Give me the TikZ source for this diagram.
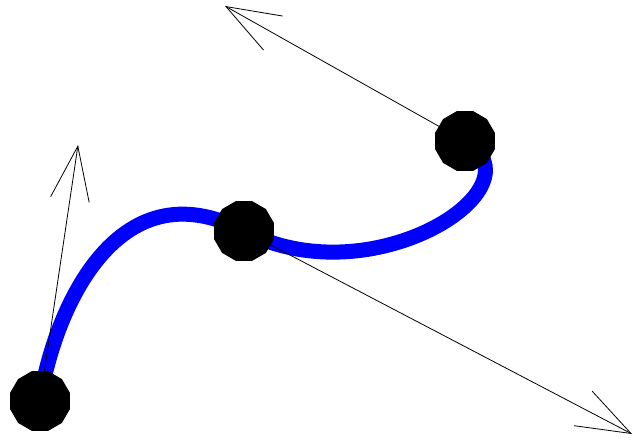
\documentclass[tikz,border=0pt]{standalone}
\usepackage{tikz}
\usetikzlibrary{arrows.meta,calc,shapes.geometric}
\definecolor{CurveBlue}{RGB}{0,0,255}
\newcommand{\tangentarrow}[2]{%
  \draw[-{Straight Barb[length=54pt,width=39pt]},line width=0.8pt] (#1) -- (#2);}

\begin{document}
\begin{tikzpicture}[x=1pt,y=-1pt]
  \useasboundingbox (0,0) rectangle (633,441);
  \coordinate (p1) at (40,401);
  \coordinate (p2) at (244,231);
  \coordinate (p3) at (465,141);
  \coordinate (t1) at (78,145);
  \coordinate (t2) at (632,434);
  \coordinate (t3) at (225,6);
  \draw[CurveBlue,line width=15pt]
    (p1) .. controls ($(p1)!1/3!(t1)$) and ($(p2)!-1/3!(t2)$) .. (p2)
         .. controls ($(p2)!1/3!(t2)$) and ($(p3)!-1/3!(t3)$) .. (p3);
  \tangentarrow{p1}{t1}
  \tangentarrow{p2}{t2}
  \tangentarrow{p3}{t3}
  \foreach \p in {p1,p2,p3}
    \node[regular polygon,regular polygon sides=12,fill=black,
          minimum size=62pt,inner sep=0pt] (dot-\p) at (\p) {};
\end{tikzpicture}
\end{document}
